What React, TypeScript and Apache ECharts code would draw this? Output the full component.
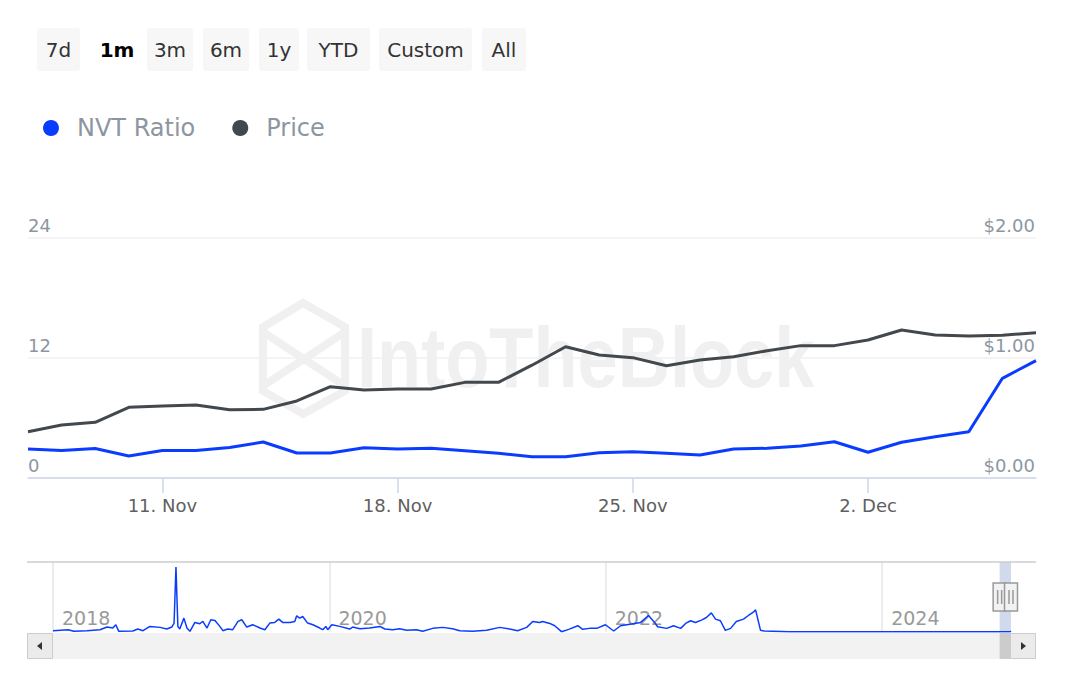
import React, { useEffect, useRef } from 'react';
import * as echarts from 'echarts';

// ---- main chart data (daily, last month) ----
const dates = [
  '2024-11-07', '2024-11-08', '2024-11-09', '2024-11-10', '2024-11-11', '2024-11-12', '2024-11-13',
  '2024-11-14', '2024-11-15', '2024-11-16', '2024-11-17', '2024-11-18', '2024-11-19', '2024-11-20',
  '2024-11-21', '2024-11-22', '2024-11-23', '2024-11-24', '2024-11-25', '2024-11-26', '2024-11-27',
  '2024-11-28', '2024-11-29', '2024-11-30', '2024-12-01', '2024-12-02', '2024-12-03', '2024-12-04',
  '2024-12-05', '2024-12-06', '2024-12-07',
];
const nvtRatio = [
  2.9, 2.75, 2.95, 2.2, 2.75, 2.75, 3.05, 3.6, 2.5, 2.5, 3.03, 2.9, 2.97, 2.73, 2.47, 2.13,
  2.13, 2.53, 2.63, 2.47, 2.3, 2.9, 2.97, 3.2, 3.63, 2.57, 3.57, 4.13, 4.63, 9.97, 11.73,
];
const price = [
  0.386, 0.442, 0.464, 0.589, 0.6, 0.608, 0.569, 0.572, 0.642, 0.761, 0.733, 0.742, 0.742, 0.797,
  0.797, 0.94, 1.094, 1.025, 1.003, 0.936, 0.983, 1.011, 1.061, 1.103, 1.103, 1.15, 1.233, 1.192,
  1.183, 1.19, 1.211,
];
const tickDates = ['2024-11-11', '2024-11-18', '2024-11-25', '2024-12-02'];
const monthNames = ['Jan', 'Feb', 'Mar', 'Apr', 'May', 'Jun', 'Jul', 'Aug', 'Sep', 'Oct', 'Nov', 'Dec'];

// ---- navigator history (NVT ratio, full range) ----
const navDates = [
  '2018-01-01', '2018-02-10', '2018-02-25', '2018-04-01', '2018-05-05', '2018-05-24', '2018-06-08', '2018-06-16',
  '2018-06-24', '2018-07-31', '2018-08-13', '2018-08-27', '2018-09-14', '2018-10-11', '2018-10-29', '2018-11-11',
  '2018-11-17', '2018-11-22', '2018-11-27', '2018-12-02', '2018-12-13', '2018-12-21', '2018-12-29',
  '2019-01-11', '2019-01-24', '2019-02-01', '2019-02-12', '2019-02-22', '2019-03-05', '2019-03-18', '2019-03-26',
  '2019-04-08', '2019-04-21', '2019-05-05', '2019-05-15', '2019-05-28', '2019-06-13', '2019-07-02', '2019-07-15',
  '2019-07-28', '2019-08-10', '2019-08-21', '2019-08-31', '2019-09-19', '2019-10-02', '2019-10-07', '2019-10-15',
  '2019-10-23', '2019-11-05', '2019-11-19', '2019-12-07', '2019-12-15', '2019-12-23', '2019-12-28',
  '2020-01-08', '2020-01-29', '2020-02-24', '2020-03-03', '2020-03-22', '2020-04-17', '2020-05-14', '2020-05-27',
  '2020-06-17', '2020-07-05', '2020-07-24', '2020-08-19', '2020-09-04', '2020-10-01', '2020-10-27', '2020-11-22',
  '2020-12-11',
  '2021-01-14', '2021-02-20', '2021-03-27', '2021-04-22', '2021-05-13', '2021-06-06', '2021-06-22', '2021-07-10',
  '2021-07-18', '2021-08-06', '2021-08-19', '2021-09-06', '2021-09-25', '2021-10-19', '2021-11-01', '2021-11-19',
  '2021-12-08', '2021-12-31',
  '2022-01-22', '2022-02-09', '2022-03-10', '2022-04-03', '2022-04-24', '2022-05-10', '2022-05-18', '2022-06-11',
  '2022-06-29', '2022-07-18', '2022-07-31', '2022-08-13', '2022-08-26', '2022-09-11', '2022-09-24', '2022-10-07',
  '2022-10-18', '2022-10-31', '2022-11-13', '2022-11-27', '2022-12-12', '2022-12-31',
  '2023-01-13', '2023-01-26', '2023-02-01', '2023-02-14', '2023-02-24', '2023-05-01', '2023-08-01', '2023-11-01',
  '2024-02-01', '2024-05-01', '2024-08-01', '2024-10-15',
];
const navValues = [
  20, 35, 10, 20, 35, 75, 60, 110, 10, 15, 45, 20, 85, 70, 45, 75, 135, 985, 85, 45, 210, 60, 10,
  145, 125, 160, 60, 185, 175, 85, 20, 45, 35, 160, 185, 75, 110, 60, 35, 135, 145, 195, 145, 145, 160, 245,
  210, 235, 135, 110, 60, 35, 85, 35,
  110, 85, 45, 75, 50, 60, 85, 45, 35, 50, 25, 35, 10, 55, 70, 50, 20,
  10, 25, 70, 45, 20, 70, 160, 145, 160, 130, 95, 5, 40, 95, 40, 55, 55, 110,
  15, 95, 120, 145, 250, 145, 80, 55, 95, 55, 130, 170, 145, 180, 220, 290, 195, 170, 25, 55, 160, 195,
  250, 300, 335, 25, 15, 4, 3, 3, 3, 3, 3, 3,
];
const navYMax = 1060;

const rangeButtons = ['7d', '1m', '3m', '6m', '1y', 'YTD', 'Custom', 'All'];
const selectedRange = '1m';

const FONT = 'DejaVu Sans';
const BLUE = '#0a3cff';
const DARK = '#43484d';
const LABEL_GRAY = '#8d96a0';
const AXIS_COLOR = '#ccd6eb';
const DAY = 86400000;
const NAV_START = '2018-01-01';
const dayOf = (d: string) => (Date.parse(d) - Date.parse(NAV_START)) / DAY;

export default function App() {
  const ref = useRef<HTMLDivElement>(null);

  useEffect(() => {
    const chart = echarts.init(ref.current!, null, { renderer: 'svg' });

    const navData = [
      ...navDates.map((d, i) => [dayOf(d), navValues[i]]),
      ...dates.map((d, i) => [dayOf(d), nvtRatio[i]]),
    ];
    const navMax = dayOf(dates[dates.length - 1]);
    const twoYears = 730.5;

    const btnLayout = [
      [37, 43], [94, 46], [147, 46], [203, 46], [259, 40], [307, 63], [379, 93], [482, 44],
    ];
    const graphics: any[] = [];
    rangeButtons.forEach((b, i) => {
      const [x, w] = btnLayout[i];
      const sel = b === selectedRange;
      graphics.push({
        type: 'rect', id: 'btnr' + i, z: 10,
        shape: { x, y: 28, width: w, height: 43, r: 3 },
        style: { fill: sel ? '#ffffff' : '#f7f7f7' },
      });
      graphics.push({
        type: 'text', id: 'btnt' + i, z: 11, x: x + w / 2, y: 50,
        style: {
          text: b, align: 'center', verticalAlign: 'middle', fontSize: 20, fontFamily: FONT,
          fontWeight: sel ? 'bold' : 'normal', fill: sel ? '#000000' : '#333333',
        },
      });
    });

    // watermark
    const wm = '#f0f0f0';
    graphics.push({
      type: 'polygon', id: 'wmHex', z: 0,
      shape: { points: [[303, 303], [345, 327], [345, 391], [303, 414], [263, 391], [263, 327]] },
      style: { fill: 'none', stroke: wm, lineWidth: 8 },
    });
    graphics.push({
      type: 'polyline', id: 'wmX1', z: 0,
      shape: { points: [[263, 332], [345, 386]] },
      style: { stroke: wm, lineWidth: 8 },
    });
    graphics.push({
      type: 'polyline', id: 'wmX2', z: 0,
      shape: { points: [[345, 332], [263, 386]] },
      style: { stroke: wm, lineWidth: 8 },
    });
    graphics.push({
      type: 'text', id: 'wmText', z: 0, x: 357, y: 357, scaleX: 0.84,
      style: {
        text: 'IntoTheBlock', fontSize: 86, fontWeight: 'bold', fontFamily: 'Liberation Sans',
        fill: wm, verticalAlign: 'middle', align: 'left',
      },
    });

    // navigator outline and scrollbar
    graphics.push({
      type: 'line', id: 'navTop', z: 5,
      shape: { x1: 27, y1: 562, x2: 1036, y2: 562 },
      style: { stroke: '#cccccc', lineWidth: 1.5 },
    });
    graphics.push({
      type: 'rect', id: 'sbTrack', z: 5,
      shape: { x: 27, y: 633, width: 1009, height: 26 },
      style: { fill: '#f2f2f2' },
    });
    graphics.push({
      type: 'rect', id: 'sbLeft', z: 7,
      shape: { x: 27.5, y: 633.5, width: 25, height: 25 },
      style: { fill: '#ebebeb', stroke: '#cccccc', lineWidth: 1 },
    });
    graphics.push({
      type: 'polygon', id: 'sbLeftArrow', z: 8,
      shape: { points: [[37, 646], [42, 642], [42, 650]] },
      style: { fill: '#333333' },
    });
    graphics.push({
      type: 'rect', id: 'sbRight', z: 7,
      shape: { x: 1010.5, y: 633.5, width: 25, height: 25 },
      style: { fill: '#ebebeb', stroke: '#cccccc', lineWidth: 1 },
    });
    graphics.push({
      type: 'polygon', id: 'sbRightArrow', z: 8,
      shape: { points: [[1021, 642], [1026, 646], [1021, 650]] },
      style: { fill: '#333333' },
    });

    const option: any = {
      animation: false,
      textStyle: { fontFamily: FONT },
      legend: {
        data: [
          { name: 'NVT Ratio', icon: 'circle' },
          { name: 'Price', icon: 'circle' },
        ],
        left: 43, top: 116, padding: 0,
        itemWidth: 16, itemHeight: 16, itemGap: 37,
        textStyle: { fontSize: 24, color: LABEL_GRAY, fontFamily: FONT, padding: [0, 0, 0, 13] },
      },
      grid: [
        { left: 28, top: 238, width: 1008, height: 240, outerBoundsMode: 'none' },
        { left: 53, top: 562, width: 958, height: 70, outerBoundsMode: 'none' },
      ],
      xAxis: [
        {
          type: 'category', gridIndex: 0, data: dates, boundaryGap: false,
          axisLine: { lineStyle: { color: AXIS_COLOR, width: 1.5 } },
          axisTick: {
            show: true, length: 15,
            interval: (idx: number, val: string) => tickDates.indexOf(val) >= 0,
            lineStyle: { color: AXIS_COLOR, width: 1.5 },
          },
          axisLabel: {
            interval: (idx: number, val: string) => tickDates.indexOf(val) >= 0,
            formatter: (val: string) => {
              const d = new Date(val + 'T00:00:00Z');
              return d.getUTCDate() + '. ' + monthNames[d.getUTCMonth()];
            },
            color: '#606060', fontSize: 18, margin: 18, fontFamily: FONT,
          },
          splitLine: { show: false },
        },
        {
          type: 'value', gridIndex: 1, min: 0, max: navMax, interval: twoYears,
          axisLine: { show: false },
          axisTick: { show: false },
          axisLabel: {
            inside: true, showMaxLabel: false, align: 'left', verticalAlign: 'bottom',
            margin: 5, padding: [0, 0, 0, 9], color: '#999999', fontSize: 19, fontFamily: FONT,
            formatter: (v: number) => {
              const k = v / twoYears;
              if (Math.abs(k - Math.round(k)) > 0.01) return '';
              return String(2018 + Math.round(v / 365.25));
            },
          },
          splitLine: { show: true, showMaxLine: false, lineStyle: { color: '#e6e6e6', width: 1.5 } },
        },
      ],
      yAxis: [
        {
          type: 'value', gridIndex: 0, position: 'left', min: 0, max: 24, interval: 12,
          axisLine: { show: false }, axisTick: { show: false },
          axisLabel: {
            inside: true, margin: 0, verticalAlign: 'bottom', color: LABEL_GRAY, fontSize: 18,
            fontFamily: FONT, padding: [0, 0, 4, 0],
          },
          splitLine: { lineStyle: { color: '#f0f0f0', width: 1.5 } },
        },
        {
          type: 'value', gridIndex: 0, position: 'right', min: 0, max: 2, interval: 1,
          axisLine: { show: false }, axisTick: { show: false },
          axisLabel: {
            inside: true, margin: 1, verticalAlign: 'bottom', color: LABEL_GRAY, fontSize: 18,
            fontFamily: FONT, padding: [0, 0, 4, 0],
            formatter: (v: number) => '$' + v.toFixed(2),
          },
          splitLine: { show: false },
        },
        {
          type: 'value', gridIndex: 1, min: 0, max: navYMax, show: false,
          splitLine: { show: false },
        },
      ],
      series: [
        {
          name: 'Price', type: 'line', xAxisIndex: 0, yAxisIndex: 1, data: price,
          symbol: 'none', z: 3,
          lineStyle: { color: DARK, width: 3 }, itemStyle: { color: DARK },
        },
        {
          name: 'NVT Ratio', type: 'line', xAxisIndex: 0, yAxisIndex: 0, data: nvtRatio,
          symbol: 'none', z: 4,
          lineStyle: { color: BLUE, width: 3 }, itemStyle: { color: BLUE },
        },
        {
          name: 'nav', type: 'line', xAxisIndex: 1, yAxisIndex: 2, data: navData,
          symbol: 'none', z: 3,
          lineStyle: { color: BLUE, width: 1.5 }, itemStyle: { color: BLUE },
          markArea: {
            silent: true,
            itemStyle: { color: 'rgba(102,133,194,0.3)' },
            data: [[{ xAxis: dayOf(dates[0]) }, { xAxis: dayOf(dates[dates.length - 1]) }]],
          },
        },
      ],
      graphic: { elements: graphics },
    };

    chart.setOption(option);

    const x0 = chart.convertToPixel({ xAxisIndex: 1 } as any, dayOf(dates[0])) as number;
    const x1 = chart.convertToPixel({ xAxisIndex: 1 } as any, dayOf(dates[dates.length - 1])) as number;
    const dyn: any[] = [
      {
        type: 'rect', id: 'sbThumb', z: 6,
        shape: { x: x0, y: 633, width: x1 - x0, height: 26 },
        style: { fill: '#cccccc' },
      },
    ];
    [x0, x1].forEach((xc, i) => {
      dyn.push({
        type: 'rect', id: 'handle' + i, z: 12,
        shape: { x: xc - 6.5, y: 583, width: 13, height: 28 },
        style: { fill: '#f2f2f2', stroke: '#999999', lineWidth: 1.5 },
      });
      [-2, 2].forEach((o, j) => {
        dyn.push({
          type: 'line', id: 'handleLine' + i + '_' + j, z: 13,
          shape: { x1: xc + o, y1: 590, x2: xc + o, y2: 604 },
          style: { stroke: '#999999', lineWidth: 1.5 },
        });
      });
    });
    chart.setOption({ graphic: { elements: dyn } });

    return () => chart.dispose();
  }, []);

  return (
    <div
      ref={ref}
      style={{ position: 'absolute', left: 0, top: 0, width: 1065, height: 699 }}
    />
  );
}
